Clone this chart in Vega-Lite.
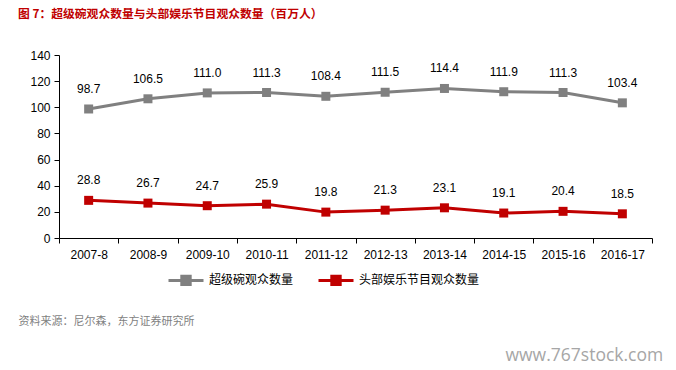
{
  "$schema": "https://vega.github.io/schema/vega-lite/v6.json",
  "width": 593,
  "height": 183,
  "autosize": {"type": "none"},
  "padding": {"left": 59, "top": 55, "right": 24, "bottom": 132},
  "background": "white",
  "title": {
    "text": "图 7：超级碗观众数量与头部娱乐节目观众数量（百万人）",
    "anchor": "start",
    "frame": "group",
    "color": "#c00000",
    "font": "Noto Sans CJK SC",
    "fontSize": 11.8,
    "fontWeight": "bold",
    "dx": -41,
    "offset": 28
  },
  "config": {
    "view": {"stroke": null},
    "axis": {
      "domainColor": "#000000",
      "tickColor": "#000000",
      "labelColor": "#000000",
      "labelFont": "Liberation Sans",
      "labelFontSize": 12,
      "grid": false,
      "tickSize": 5
    }
  },
  "data": {
    "values": [
      {"season": "2007-8", "series": "超级碗观众数量", "value": 98.7},
      {"season": "2008-9", "series": "超级碗观众数量", "value": 106.5},
      {"season": "2009-10", "series": "超级碗观众数量", "value": 111.0},
      {"season": "2010-11", "series": "超级碗观众数量", "value": 111.3},
      {"season": "2011-12", "series": "超级碗观众数量", "value": 108.4},
      {"season": "2012-13", "series": "超级碗观众数量", "value": 111.5},
      {"season": "2013-14", "series": "超级碗观众数量", "value": 114.4},
      {"season": "2014-15", "series": "超级碗观众数量", "value": 111.9},
      {"season": "2015-16", "series": "超级碗观众数量", "value": 111.3},
      {"season": "2016-17", "series": "超级碗观众数量", "value": 103.4},
      {"season": "2007-8", "series": "头部娱乐节目观众数量", "value": 28.8},
      {"season": "2008-9", "series": "头部娱乐节目观众数量", "value": 26.7},
      {"season": "2009-10", "series": "头部娱乐节目观众数量", "value": 24.7},
      {"season": "2010-11", "series": "头部娱乐节目观众数量", "value": 25.9},
      {"season": "2011-12", "series": "头部娱乐节目观众数量", "value": 19.8},
      {"season": "2012-13", "series": "头部娱乐节目观众数量", "value": 21.3},
      {"season": "2013-14", "series": "头部娱乐节目观众数量", "value": 23.1},
      {"season": "2014-15", "series": "头部娱乐节目观众数量", "value": 19.1},
      {"season": "2015-16", "series": "头部娱乐节目观众数量", "value": 20.4},
      {"season": "2016-17", "series": "头部娱乐节目观众数量", "value": 18.5}
    ]
  },
  "encoding": {
    "x": {
      "field": "season",
      "type": "nominal",
      "sort": null,
      "bandPosition": 0.5,
      "scale": {"type": "band", "paddingInner": 0, "paddingOuter": 0},
      "axis": {
        "labelAngle": 0,
        "tickBand": "extent",
        "labelPadding": 6,
        "title": "资料来源：尼尔森，东方证券研究所",
        "titleX": -41,
        "titleY": 83,
        "titleAlign": "left",
        "titleBaseline": "middle",
        "titleFont": "Noto Sans CJK SC",
        "titleFontSize": 11,
        "titleFontWeight": "normal",
        "titleColor": "#7f7f7f"
      }
    },
    "y": {
      "field": "value",
      "type": "quantitative",
      "scale": {"domain": [0, 140], "nice": false},
      "axis": {
        "values": [0, 20, 40, 60, 80, 100, 120, 140],
        "labelPadding": 4,
        "title": "www.767stock.com",
        "titleAngle": 0,
        "titleX": 446,
        "titleY": 300,
        "titleAlign": "left",
        "titleBaseline": "middle",
        "titleFont": "Open Sans",
        "titleFontSize": 17.5,
        "titleFontWeight": "normal",
        "titleColor": "#a6a6a6"
      }
    },
    "color": {
      "field": "series",
      "type": "nominal",
      "sort": ["超级碗观众数量", "头部娱乐节目观众数量"],
      "scale": {"domain": ["超级碗观众数量", "头部娱乐节目观众数量"], "range": ["#808080", "#c00000"]},
      "legend": {
        "title": null,
        "orient": "none",
        "legendX": 108,
        "legendY": 206,
        "direction": "horizontal",
        "symbolType": "M-1,0L1,0M-0.24,-0.24L0.24,-0.24L0.24,0.24L-0.24,0.24Z",
        "symbolSize": 1225,
        "symbolStrokeWidth": 3,
        "labelFont": "Noto Sans CJK SC",
        "labelFontSize": 12,
        "labelColor": "#000000",
        "labelOffset": 4,
        "columnPadding": 18,
        "encode": {
          "symbols": {"update": {"fill": {"scale": "color", "field": "value"}, "stroke": {"scale": "color", "field": "value"}, "opacity": {"value": 1}}}
        }
      }
    }
  },
  "layer": [
    {
      "mark": {"type": "line", "strokeWidth": 3, "point": {"shape": "square", "size": 81, "filled": true, "opacity": 1}}
    },
    {
      "mark": {"type": "text", "dy": -20, "font": "Liberation Sans", "fontSize": 12, "color": "#000000"},
      "encoding": {
        "text": {"field": "value", "type": "quantitative", "format": ".1f"},
        "color": {"value": "#000000"}
      }
    }
  ]
}
